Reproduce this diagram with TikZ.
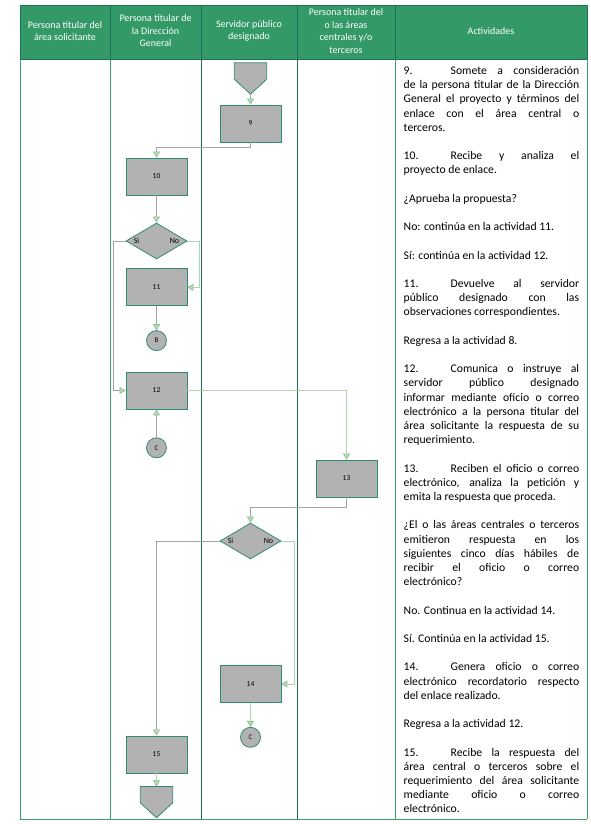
\documentclass[tikz,border=0pt]{standalone}
\usepackage{fontspec}
\setmainfont{Carlito}
\usepackage{tikz}
\usetikzlibrary{arrows.meta,calc,positioning,shapes.geometric}
\definecolor{Encabezado}{HTML}{339966}
\definecolor{Borde}{HTML}{1E6E5C}
\definecolor{Carril}{HTML}{3E9E6C}
\definecolor{Caja}{HTML}{B2B2B2}
\definecolor{CajaBorde}{HTML}{2F8A78}
\definecolor{Linea}{HTML}{A3A3A3}
\definecolor{LineaVerde}{HTML}{ADD6AD}
\definecolor{Punta}{HTML}{B5DDB5}
\definecolor{PuntaBorde}{HTML}{8DBB8D}
\newcommand{\numact}[1]{\makebox[47pt][l]{#1}}
\tikzset{
  actividad/.style={
    draw=CajaBorde, thick, fill=Caja, minimum width=61pt, minimum height=37pt,
    inner sep=0pt, font=\fontsize{7.5}{9}\selectfont
  },
  decision/.style={
    diamond, draw=CajaBorde, thick, fill=Caja, minimum width=61pt,
    minimum height=36pt, inner sep=0pt
  },
  conector/.style={
    circle, draw=CajaBorde, thick, fill=Caja, minimum size=20pt,
    inner sep=0pt, font=\fontsize{7}{8}\selectfont
  },
  fuerapagina/.style={minimum width=32pt, minimum height=31pt, inner sep=0pt},
  pentagono/.style={draw=CajaBorde, thick, fill=Caja},
  rama/.style={font=\fontsize{8}{9}\selectfont, inner sep=0pt},
  titulo/.style={text=white, align=center, font=\fontsize{10}{12.5}\selectfont},
  flujo/.style={-{Triangle[length=6pt,width=7pt,color=PuntaBorde,fill=Punta]}, draw=Linea, semithick},
  flujoverde/.style={flujo, draw=LineaVerde}
}

\begin{document}
\begin{tikzpicture}[x=1pt,y=-1pt]
    \useasboundingbox (0,0) rectangle (590,824);
    \fill[Encabezado] (20,5) rectangle (587,59);
    \draw[Borde, thick] (20,5) rectangle (587,59);
    \foreach \x in {110,201,297,395}
        \draw[Borde] (\x,5) -- (\x,59);
    \foreach \x/\c in {20/Carril,110/Carril,201/Borde,297/Borde,395/Carril,587/Carril}
        \draw[\c, thick] (\x,59) -- (\x,819);
    \draw[Carril, thick] (20,819) -- (587,819);

    \node[titulo] (solicitante) at (65,31) {Persona titular del\\área solicitante};
    \node[titulo] (direccion) at (155.5,31) {Persona titular de\\la Dirección\\General};
    \node[titulo] (servidor) at (249,31) {Servidor público\\designado};
    \node[titulo] (centrales) at (346,31) {Persona titular del\\o las áreas\\centrales y/o\\terceros};
    \node[titulo] (actividades) at (491,31) {Actividades};

    \node[fuerapagina] (inicio) at (250.5,78.5) {};
    \draw[pentagono] (inicio.north west) -- (inicio.north east) -- ([yshift=15pt]inicio.south east)
        -- (inicio.south) -- ([yshift=15pt]inicio.south west) -- cycle;
    \node[actividad] (a9) at (250.5,123.5) {9};
    \node[actividad] (a10) at (156.5,176.5) {10};
    \node[decision] (d1) at (156.5,241) {};
    \node[rama, right=8pt of d1.west] (si1) {Si};
    \node[rama, left=8pt of d1.east] (no1) {No};
    \node[actividad, below=9pt of d1] (a11) {11};
    \node[conector, below=24pt of a11] (cB) {B};
    \node[actividad] (a12) at (156.5,390.5) {12};
    \node[conector, below=28pt of a12] (cC1) {C};
    \node[actividad] (a13) at (346.5,478.5) {13};
    \node[decision] (d2) at (250.5,541) {};
    \node[rama, right=8pt of d2.west] (si2) {Si};
    \node[rama, left=8pt of d2.east] (no2) {No};
    \node[actividad] (a14) at (250.5,684) {14};
    \node[conector, below=24pt of a14] (cC2) {C};
    \node[actividad] (a15) at (156.5,754.5) {15};
    \node[fuerapagina, below=13pt of a15] (fin) {};
    \draw[pentagono] (fin.north west) -- (fin.north east) -- ([yshift=15pt]fin.south east)
        -- (fin.south) -- ([yshift=15pt]fin.south west) -- cycle;

    \draw[flujo] (inicio.south) -- (a9.north);
    \draw[flujo] (a9.south) -- ++(0,5) -| (a10.north);
    \draw[flujo] (a10) -- (d1);
    \draw[flujoverde] (d1.east) -- ++(12,0) |- (a11.east);
    \draw[flujo] (d1.west) -- ++(-12,0) |- (a12.west);
    \draw[flujo] (a11) -- (cB);
    \draw[flujo] (cC1) -- (a12);
    \draw[flujoverde] (a12.east) -| (a13.north);
    \draw[flujo] (a13.south) -- ++(0,10) -| (d2.north);
    \draw[flujo] (d2.west) -| (a15.north);
    \draw[flujoverde] (d2.east) -- ++(13,0) |- (a14.east);
    \draw[flujoverde] (a14) -- (cC2);
    \draw[flujoverde] (a15) -- (fin);

    \node[anchor=base west, text width=175.5pt, align=justify, inner sep=0pt,
        font=\fontsize{11.7}{14.2}\selectfont] (texto) at (403.5,74.5) {%
        \setlength{\parskip}{14.2pt}%
        \numact{9.}Somete a consideración\linebreak
        de la persona titular de la Dirección\linebreak
        General el proyecto y términos del\linebreak
        enlace con el área central o\linebreak
        terceros.\par
        \numact{10.}Recibe y analiza el\linebreak
        proyecto de enlace.\par
        ¿Aprueba la propuesta?\par
        No: continúa en la actividad 11.\par
        Sí: continúa en la actividad 12.\par
        \numact{11.}Devuelve al servidor\linebreak
        público designado con las\linebreak
        observaciones correspondientes.\par
        Regresa a la actividad 8.\par
        \numact{12.}Comunica o instruye al\linebreak
        servidor público designado\linebreak
        informar mediante oficio o correo\linebreak
        electrónico a la persona titular del\linebreak
        área solicitante la respuesta de su\linebreak
        requerimiento.\par
        \numact{13.}Reciben el oficio o correo\linebreak
        electrónico, analiza la petición y\linebreak
        emita la respuesta que proceda.\par
        ¿El o las áreas centrales o terceros\linebreak
        emitieron respuesta en los\linebreak
        siguientes cinco días hábiles de\linebreak
        recibir el oficio o correo\linebreak
        electrónico?\par
        No. Continua en la actividad 14.\par
        Sí. Continúa en la actividad 15.\par
        \numact{14.}Genera oficio o correo\linebreak
        electrónico recordatorio respecto\linebreak
        del enlace realizado.\par
        Regresa a la actividad 12.\par
        \numact{15.}Recibe la respuesta del\linebreak
        área central o terceros sobre el\linebreak
        requerimiento del área solicitante\linebreak
        mediante oficio o correo\linebreak
        electrónico.};
\end{tikzpicture}
\end{document}
